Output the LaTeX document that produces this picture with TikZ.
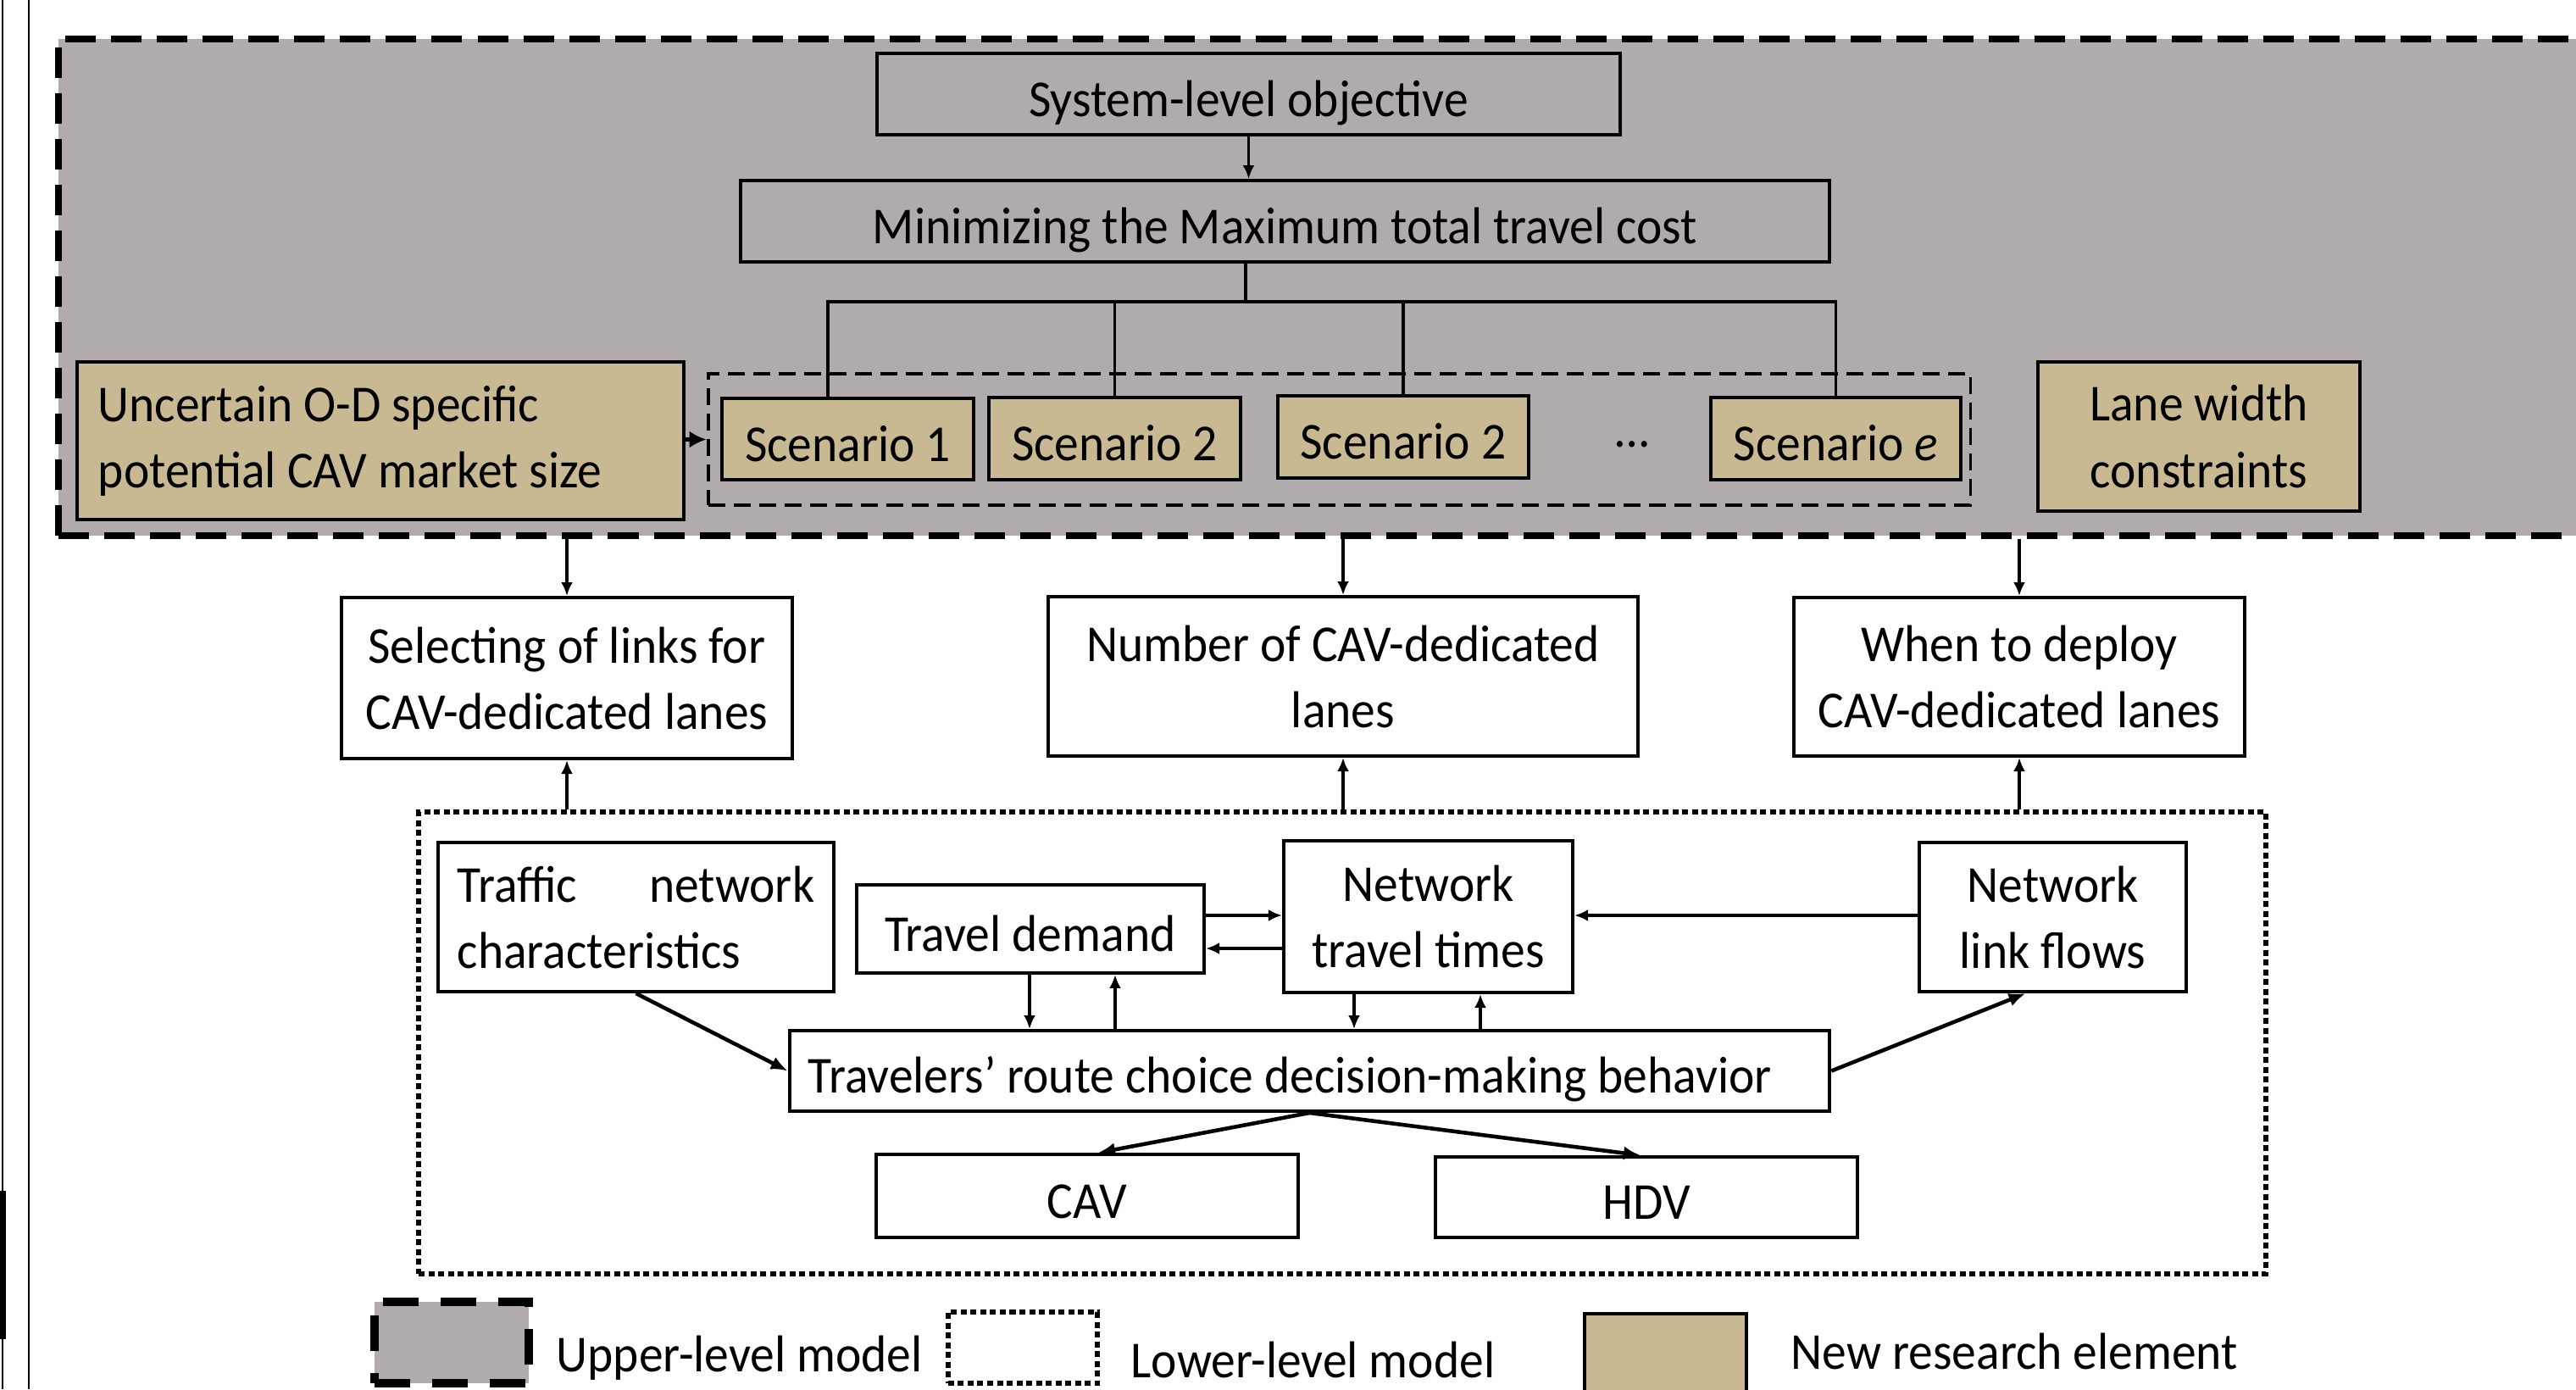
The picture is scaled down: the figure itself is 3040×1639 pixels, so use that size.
\documentclass[tikz,border=0pt]{standalone}
\usepackage{fontspec}
\setmainfont[FakeStretch=0.94]{Carlito}
\usetikzlibrary{arrows.meta,calc}
\definecolor{upgray}{RGB}{177,171,171}
\definecolor{newtan}{RGB}{200,185,147}
\newcommand{\myfs}{\fontsize{17.4pt}{22.2pt}\selectfont}
\begin{document}
\begin{tikzpicture}[x=0.01cm,y=-0.01cm,
  box/.style={draw, line width=1.1pt, inner sep=0pt, align=center, font=\myfs},
  oneline/.style={text height=0.62cm, text depth=0.1cm},
  tanbox/.style={box, fill=newtan},
  wbox/.style={box, fill=white},
  arr/.style={-{Latex[length=0.16cm,width=0.14cm]}, line width=0.9pt},
  bigarr/.style={-{Latex[length=0.2cm,width=0.2cm]}, line width=1.6pt},
  conn/.style={line width=0.9pt},
  diag/.style={-{Latex[length=0.2cm,width=0.16cm]}, line width=1.3pt},
  upperbox/.style={draw, fill=upgray, line width=2.1pt, dash pattern=on 0.36cm off 0.18cm, inner sep=0pt},
  scenbox/.style={draw, line width=1.1pt, dash pattern=on 0.2cm off 0.1cm, inner sep=0pt},
  lowerbox/.style={draw, line width=1.7pt, dash pattern=on 0.07cm off 0.045cm, inner sep=0pt},
  lab/.style={font=\myfs, inner sep=0pt, anchor=west}]
\useasboundingbox (0,0) rectangle (3040,1639);
\clip (0,0) rectangle (3040,1639);
\fill[white] (0,0) rectangle (3040,1639);

% page-edge artefacts
\draw[line width=0.6pt] (3,0) -- (3,1639);
\draw[line width=0.6pt] (34,0) -- (34,1639);
\fill[black] (0,1405) rectangle (7,1580);

% upper-level model region
\node[upperbox, minimum width=30.5cm, minimum height=5.86cm] (upper) at (1595,339) {};

\node[box, oneline, minimum width=8.77cm, minimum height=0.96cm] (sys) at (1473.5,111) {System-level objective};
\node[box, oneline, minimum width=12.85cm, minimum height=0.96cm] (min) at (1516.5,261) {Minimizing the Maximum total travel cost};

\node[scenbox, minimum width=14.89cm, minimum height=1.55cm] (cont) at (1580.5,518.5) {};
\node[tanbox, oneline, minimum width=2.97cm, minimum height=0.96cm] (s1) at (1000.5,518) {Scenario 1};
\node[tanbox, oneline, minimum width=2.97cm, minimum height=0.97cm] (s2) at (1315.5,517.5) {Scenario 2};
\node[tanbox, oneline, minimum width=2.96cm, minimum height=0.97cm] (s3) at (1656,515.5) {Scenario 2};
\node[font=\myfs, inner sep=0pt] (dots) at (1926,524) {…};
\node[tanbox, oneline, minimum width=2.95cm, minimum height=0.97cm] (se) at (2166.5,517.5) {Scenario \textit{e}};

\node[tanbox, minimum width=7.16cm, minimum height=1.86cm, text width=6.66cm, align=flush left, inner xsep=0.25cm] (unc) at (449,520) {Uncertain O-D specific\\potential CAV market size};
\node[tanbox, minimum width=3.8cm, minimum height=1.76cm] (lane) at (2595,515) {Lane width\\constraints};

% tree connectors
\coordinate (bar) at (1470,356);
\coordinate (b1) at (977,356);
\draw[arr] (sys.south) -- (sys.south |- min.north);
\draw[conn] (bar |- min.south) -- (bar);
\draw[conn] (b1 |- s1.north) -- (b1) -- (se.north |- bar) -- (se.north);
\draw[conn] (s2.north) -- (s2.north |- bar);
\draw[conn] (s3.north) -- (s3.north |- bar);
\draw[bigarr] (unc.east |- cont.west) -- (cont.west);

% decision boxes
\node[wbox, minimum width=5.32cm, minimum height=1.9cm] (sel) at (669,800) {Selecting of links for\\CAV-dedicated lanes};
\node[wbox, minimum width=6.96cm, minimum height=1.88cm] (num) at (1585,798) {Number of CAV-dedicated\\lanes};
\node[wbox, minimum width=5.32cm, minimum height=1.87cm] (when) at (2383,798.5) {When to deploy\\CAV-dedicated lanes};

% lower-level model region
\node[lowerbox, minimum width=21.78cm, minimum height=5.45cm] (lower) at (1584,1230.5) {};

\draw[arr] (sel.north |- upper.south) -- (sel.north);
\draw[arr] (num.north |- upper.south) -- (num.north);
\draw[arr] (when.north |- upper.south) -- (when.north);
\draw[arr] (sel.south |- lower.north) -- (sel.south);
\draw[arr] (num.south |- lower.north) -- (num.south);
\draw[arr] (when.south |- lower.north) -- (when.south);

\node[wbox, minimum width=4.67cm, minimum height=1.76cm, text width=4.21cm, align=flush left, inner xsep=0.23cm] (traf) at (750.5,1082) {Traffic\hfill network\\characteristics};
\node[wbox, oneline, minimum width=4.10cm, minimum height=1.04cm] (td) at (1216,1096) {Travel demand};
\node[wbox, minimum width=3.41cm, minimum height=1.79cm] (ntt) at (1685.5,1081.5) {Network\\travel times};
\node[wbox, minimum width=3.15cm, minimum height=1.76cm] (nlf) at (2422.5,1082) {Network\\link flows};
\node[wbox, oneline, minimum width=12.27cm, minimum height=0.95cm, text width=11.83cm, align=flush left, inner xsep=0.22cm] (trav) at (1545.5,1263.5) {Travelers’ route choice decision-making behavior};
\node[wbox, oneline, minimum width=4.98cm, minimum height=0.98cm] (cav) at (1283,1411) {CAV};
\node[wbox, oneline, minimum width=4.98cm, minimum height=0.95cm] (hdv) at (1943,1412.5) {HDV};

\coordinate (ya) at (0,1080);
\coordinate (yb) at (0,1119);
\coordinate (xa) at (1215,0);
\coordinate (xb) at (1316,0);
\coordinate (xc) at (1598,0);
\coordinate (xd) at (1747,0);
\draw[arr] (td.east |- ya) -- (ntt.west |- ya);
\draw[arr] (ntt.west |- yb) -- (td.east |- yb);
\draw[arr] (nlf.west |- ya) -- (ntt.east |- ya);
\draw[arr] (xa |- td.south) -- (xa |- trav.north);
\draw[arr] (xb |- trav.north) -- (xb |- td.south);
\draw[arr] (xc |- ntt.south) -- (xc |- trav.north);
\draw[arr] (xd |- trav.north) -- (xd |- ntt.south);
\draw[diag] (traf.south) -- (trav.west);
\draw[diag] (trav.east) -- ($(nlf.south west)!0.4!(nlf.south east)$);
\draw[diag] (trav.south) -- ($(cav.north)+(13,0)$);
\draw[diag] (trav.south) -- ($(hdv.north)+(-7,0)$);

% legend
\node[draw, fill=upgray, line width=2.6pt, dash pattern=on 0.42cm off 0.26cm, minimum width=1.82cm, minimum height=0.96cm, inner sep=0pt] (lg1) at (533,1584) {};
\node[lab] (lg1t) at (656,1602) {Upper-level model};
\node[lowerbox, minimum width=1.76cm, minimum height=0.84cm] (lg2) at (1207,1590) {};
\node[lab] (lg2t) at (1334,1604) {Lower-level model};
\node[tanbox, minimum width=1.91cm, minimum height=1.0cm] (lg3) at (1965.5,1600) {};
\node[lab] (lg3t) at (2113,1594) {New research element};
\end{tikzpicture}
\end{document}
